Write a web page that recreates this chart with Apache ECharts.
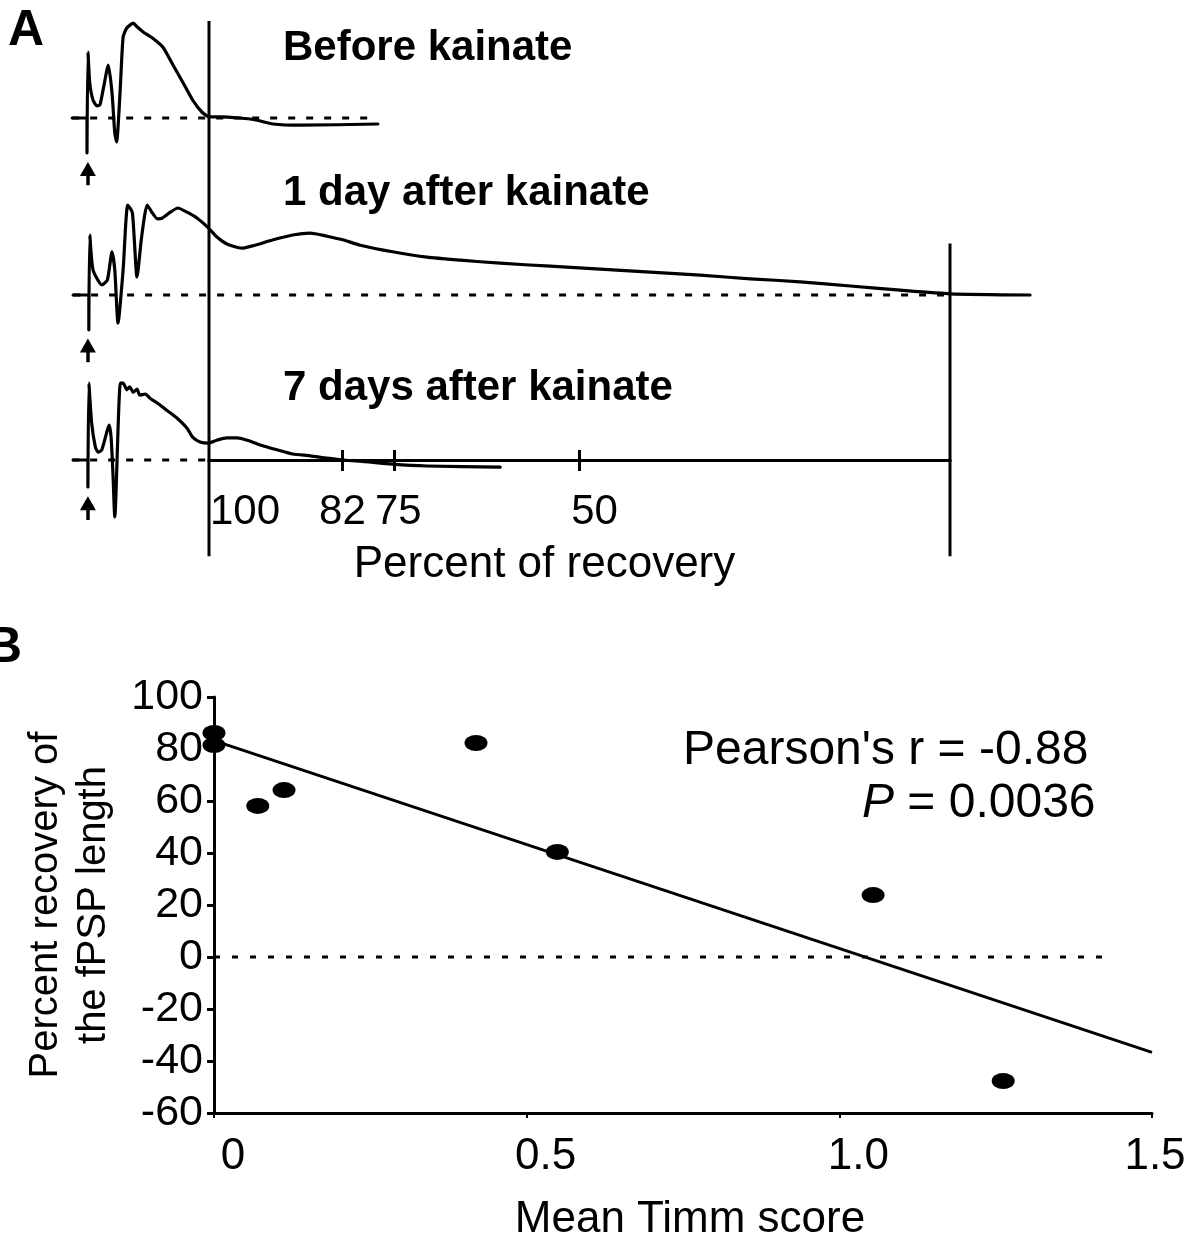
<!DOCTYPE html>
<html>
<head>
<meta charset="utf-8">
<title>fPSP recovery and Timm score</title>
<script src="https://cdn.jsdelivr.net/npm/echarts@6/dist/echarts.min.js"></script>
<style>
  html, body { margin: 0; padding: 0; background: #fff; }
  #chart { width: 1186px; height: 1238px; }
</style>
</head>
<body>
<div id="chart"></div>
<script>
// ---------- Panel A: field PSP traces (time in ms, amplitude in mV) ----------
const traceTitles = ['Before kainate', '1 day after kainate', '7 days after kainate'];

const traceBefore = [
  [5.2, 0], [6.8, 0], [6.8, -0.58], [6.9, 1.10], [7.1, 0.58], [7.45, 0.30], [7.9, 0.20],
  [8.2, 0.22], [8.6, 0.52], [9.1, 0.88], [9.5, 0.42], [9.8, -0.25], [10.0, -0.40],
  [10.4, 0.52], [10.7, 1.35], [11.1, 1.50], [11.8, 1.58], [12.2, 1.52], [12.9, 1.43],
  [13.9, 1.33], [15.0, 1.18], [16.1, 0.88], [17.2, 0.58], [18.2, 0.30], [19.2, 0.10],
  [20.0, 0.02], [21.2, 0.02], [23.3, 0], [24.9, -0.03], [26.9, -0.10], [29.8, -0.12],
  [38.2, -0.10]
];

const traceDay1 = [
  [5.3, 0], [7.0, 0], [7.0, -0.58], [7.1, 1.00], [7.45, 0.42], [8.4, 0.17], [9.0, 0.25],
  [9.5, 0.72], [9.8, 0.42], [10.15, -0.47], [10.7, 0.42], [11.2, 1.50], [11.7, 1.37],
  [12.2, 0.30], [12.7, 0.97], [13.3, 1.50], [13.8, 1.38], [14.4, 1.27], [14.9, 1.28],
  [15.8, 1.38], [16.6, 1.45], [17.6, 1.38], [18.7, 1.28], [19.9, 1.12], [20.8, 0.97],
  [21.9, 0.85], [23.5, 0.78], [24.7, 0.82], [26.9, 0.92], [29.0, 1.00], [30.9, 1.03],
  [32.7, 0.98], [34.4, 0.92], [36.3, 0.83], [39.8, 0.72], [43.5, 0.63], [47.1, 0.58],
  [51.4, 0.53], [56.8, 0.48], [62.2, 0.43], [67.6, 0.38], [73.0, 0.33], [78.4, 0.27],
  [83.8, 0.22], [89.2, 0.15], [94.6, 0.08], [100.0, 0.02], [108.6, 0]
];

const traceDay7 = [
  [5.3, 0], [6.9, 0], [6.9, -0.45], [7.0, 1.28], [7.3, 0.62], [7.7, 0.22], [8.0, 0.13],
  [8.4, 0.17], [9.0, 0.50], [9.2, 0.58], [9.4, 0.38], [9.6, -0.22], [9.8, -0.95],
  [10.4, 1.28], [10.7, 1.28], [11.1, 1.17], [11.4, 1.22], [11.8, 1.13], [12.2, 1.18],
  [12.5, 1.08], [13.1, 1.10], [13.6, 1.03], [14.4, 0.95], [15.4, 0.83], [16.5, 0.70],
  [17.6, 0.53], [18.2, 0.38], [19.0, 0.30], [19.9, 0.28], [20.8, 0.33], [21.9, 0.37],
  [23.0, 0.37], [24.1, 0.33], [25.5, 0.25], [27.3, 0.17], [29.0, 0.10], [30.9, 0.07],
  [32.7, 0.03], [34.4, 0], [36.3, -0.02], [39.8, -0.07], [43.5, -0.10], [51.4, -0.12]
];

// dotted baseline extent for each trace (ms)
const baselineSpans = [[5.2, 38.2], [5.3, 100], [5.2, 20]];
// stimulus time (ms) and arrow extent below each trace (tail, head; mV)
const stimTime = 6.9;
const stimArrows = [[-1.12, -0.85], [-1.12, -0.84], [-1.0, -0.72]];

// percent-of-recovery scale
const recoveryTicks = [82, 75, 50];
const recoveryLabels = [100, 82, 75, 50];
const guideFullRecovery = [[100, 7.3], [100, -1.6]];
const guideNoRecovery = [[0, 3.6], [0, -1.6]];

// ---------- Panel B: recovery vs. Timm score ----------
const timmScore = [0, 0, 0.07, 0.112, 0.419, 0.549, 1.054, 1.262];
const recoveryPct = [86.2, 81.5, 58.1, 64.2, 82.3, 40.4, 23.8, -47.7];
const fitRange = [0, 1.5];
const zeroRefSpan = [0, 1.43];
const statR = "Pearson's r = -0.88";
const statP = '0.0036';

// ---------- helpers ----------
function leastSquares(xs, ys) {
  const n = xs.length;
  const mx = xs.reduce((a, b) => a + b, 0) / n;
  const my = ys.reduce((a, b) => a + b, 0) / n;
  let sxy = 0, sxx = 0;
  for (let i = 0; i < n; i++) {
    sxy += (xs[i] - mx) * (ys[i] - my);
    sxx += (xs[i] - mx) * (xs[i] - mx);
  }
  const slope = sxy / sxx;
  return { slope, intercept: my - slope * mx };
}

const FONT = 'Liberation Sans, Arial, Helvetica, sans-serif';
const INK = '#000';
const scatterData = timmScore.map((x, i) => [x, recoveryPct[i]]);
const fit = leastSquares(timmScore, recoveryPct);
const fitLine = fitRange.map(x => [x, fit.intercept + fit.slope * x]);

const traces = [traceBefore, traceDay1, traceDay7];
const traceTops = [13, 190, 355];
const titleY = [48, 193, 388];

const grids = traceTops.map(top => ({ left: 24, width: 1019, top, height: 180, outerBoundsMode: 'none' }));
// recovery scale: its bottom edge is the scale line
grids.push({ left: 209, width: 741, top: 21, height: 439, outerBoundsMode: 'none' });
// panel B
grids.push({ left: 214, width: 938, top: 697, height: 416, outerBoundsMode: 'none' });

const hiddenAxis = (gridIndex, min, max) => ({ gridIndex, type: 'value', min, max, show: false });

const xAxes = [0, 1, 2].map(i => hiddenAxis(i, 0, 110));
const yAxes = [0, 1, 2].map(i => hiddenAxis(i, -1.25, 1.75));

const recoveryShift = { 100: 72, 82: 0, 75: 8, 50: 30 };
const recoveryRich = {};
recoveryLabels.forEach(v => {
  recoveryRich['s' + v] = { fontSize: 42, fontFamily: FONT, color: INK, padding: [0, 0, 0, recoveryShift[v]] };
});

xAxes.push({
  gridIndex: 3, type: 'value', min: 0, max: 100, inverse: true, position: 'bottom',
  axisLine: { show: true, onZero: false, lineStyle: { color: INK, width: 3 } },
  axisTick: { show: true, customValues: recoveryTicks, length: 11, lineStyle: { color: INK, width: 3 } },
  axisLabel: {
    show: true, customValues: recoveryLabels, margin: 31,
    formatter: v => `{s${v}|${v}}`, rich: recoveryRich
  },
  splitLine: { show: false },
  name: 'Percent of recovery', nameLocation: 'middle', nameGap: 83,
  nameTextStyle: { fontSize: 44, fontFamily: FONT, color: INK, padding: [0, 70, 0, 0] }
});
// upward half of the scale ticks
xAxes.push({
  gridIndex: 3, type: 'value', min: 0, max: 100, inverse: true, position: 'top',
  axisLine: { show: true, onZero: true, onZeroAxisIndex: 3, lineStyle: { color: INK, width: 3 } },
  axisTick: { show: true, customValues: recoveryTicks, length: 10, lineStyle: { color: INK, width: 3 } },
  axisLabel: { show: false },
  splitLine: { show: false }
});
yAxes.push(hiddenAxis(3, 0, 7.3));

xAxes.push({
  gridIndex: 4, type: 'value', min: 0, max: 1.5, interval: 0.5,
  axisLine: { show: true, onZero: false, lineStyle: { color: INK, width: 3 } },
  axisTick: { show: true, length: 5, lineStyle: { color: INK, width: 2 } },
  axisLabel: {
    show: true, margin: 22,
    formatter: v => v === 1.5 ? '{e|1.5}' : `{n|${v === 0 ? '0' : v.toFixed(1)}}`,
    rich: {
      n: { fontSize: 44, fontFamily: FONT, color: INK, padding: [0, 0, 0, 38] },
      e: { fontSize: 44, fontFamily: FONT, color: INK, padding: [0, 0, 0, 6] }
    }
  },
  splitLine: { show: false },
  name: 'Mean Timm score', nameLocation: 'middle', nameGap: 85,
  nameTextStyle: { fontSize: 44, fontFamily: FONT, color: INK, padding: [0, 0, 0, 14] }
});
yAxes.push({
  gridIndex: 4, type: 'value', min: -60, max: 100, interval: 20,
  axisLine: { show: true, onZero: false, lineStyle: { color: INK, width: 3 } },
  axisTick: { show: true, length: 7, lineStyle: { color: INK, width: 3 } },
  axisLabel: { show: true, margin: 11, fontSize: 43, fontFamily: FONT, color: INK },
  splitLine: { show: false },
  name: 'Percent recovery of\nthe fPSP length', nameLocation: 'middle', nameRotate: 90, nameGap: 96,
  nameTextStyle: { fontSize: 40, lineHeight: 48, fontFamily: FONT, color: INK, align: 'center' }
});

const series = [];
traces.forEach((data, i) => {
  series.push({
    type: 'line', xAxisIndex: i, yAxisIndex: i, silent: true, symbol: 'none', z: 2,
    data: baselineSpans[i].map(t => [t, 0]),
    lineStyle: { color: INK, width: 3, type: [7, 11] }
  });
  series.push({
    type: 'line', xAxisIndex: i, yAxisIndex: i, silent: true, symbol: 'none', z: 3,
    data, smooth: 0.2,
    lineStyle: { color: INK, width: 3.2, join: 'round', cap: 'round' },
    markLine: {
      silent: true, animation: false, symbol: ['none', 'triangle'], symbolSize: [16, 14],
      label: { show: false }, emphasis: { disabled: true },
      lineStyle: { color: INK, width: 3.5, type: 'solid' },
      data: [[{ coord: [stimTime, stimArrows[i][0]] }, { coord: [stimTime, stimArrows[i][1]] }]]
    }
  });
});
[guideFullRecovery, guideNoRecovery].forEach(data => {
  series.push({
    type: 'line', xAxisIndex: 3, yAxisIndex: 3, silent: true, symbol: 'none', z: 4, clip: false,
    data, lineStyle: { color: INK, width: 3 }
  });
});
series.push({
  type: 'line', xAxisIndex: 5, yAxisIndex: 4, silent: true, symbol: 'none', z: 2,
  data: zeroRefSpan.map(x => [x, 0]),
  lineStyle: { color: INK, width: 3, type: [6, 12] }
});
series.push({
  type: 'line', xAxisIndex: 5, yAxisIndex: 4, silent: true, symbol: 'none', z: 3,
  data: fitLine, lineStyle: { color: INK, width: 3 }
});
series.push({
  type: 'scatter', xAxisIndex: 5, yAxisIndex: 4, silent: true, z: 4,
  symbol: 'circle', symbolSize: [23, 16], clip: false,
  itemStyle: { color: INK, opacity: 1 }, data: scatterData
});

const graphic = [
  { type: 'text', x: 8, y: 31, style: { text: 'A', font: `bold 50px ${FONT}`, fill: INK, verticalAlign: 'middle' } },
  { type: 'text', x: -14, y: 648, style: { text: 'B', font: `bold 50px ${FONT}`, fill: INK, verticalAlign: 'middle' } },
  ...traceTitles.map((t, i) => ({
    type: 'text', x: 283, y: titleY[i],
    style: { text: t, font: `bold 42px ${FONT}`, fill: INK, verticalAlign: 'middle' }
  })),
  { type: 'text', x: 683, y: 751, style: { text: statR, font: `48px ${FONT}`, fill: INK, verticalAlign: 'middle' } },
  {
    type: 'text', x: 862, y: 804,
    style: {
      text: `{i|P} = ${statP}`,
      font: `48px ${FONT}`, fill: INK, verticalAlign: 'middle',
      rich: { i: { font: `italic 48px ${FONT}`, fill: INK } }
    }
  }
];

const chart = echarts.init(document.getElementById('chart'), null, { renderer: 'canvas' });
chart.setOption({
  animation: false,
  backgroundColor: '#fff',
  textStyle: { fontFamily: FONT, color: INK },
  grid: grids,
  xAxis: xAxes,
  yAxis: yAxes,
  series,
  graphic
});
</script>
</body>
</html>
